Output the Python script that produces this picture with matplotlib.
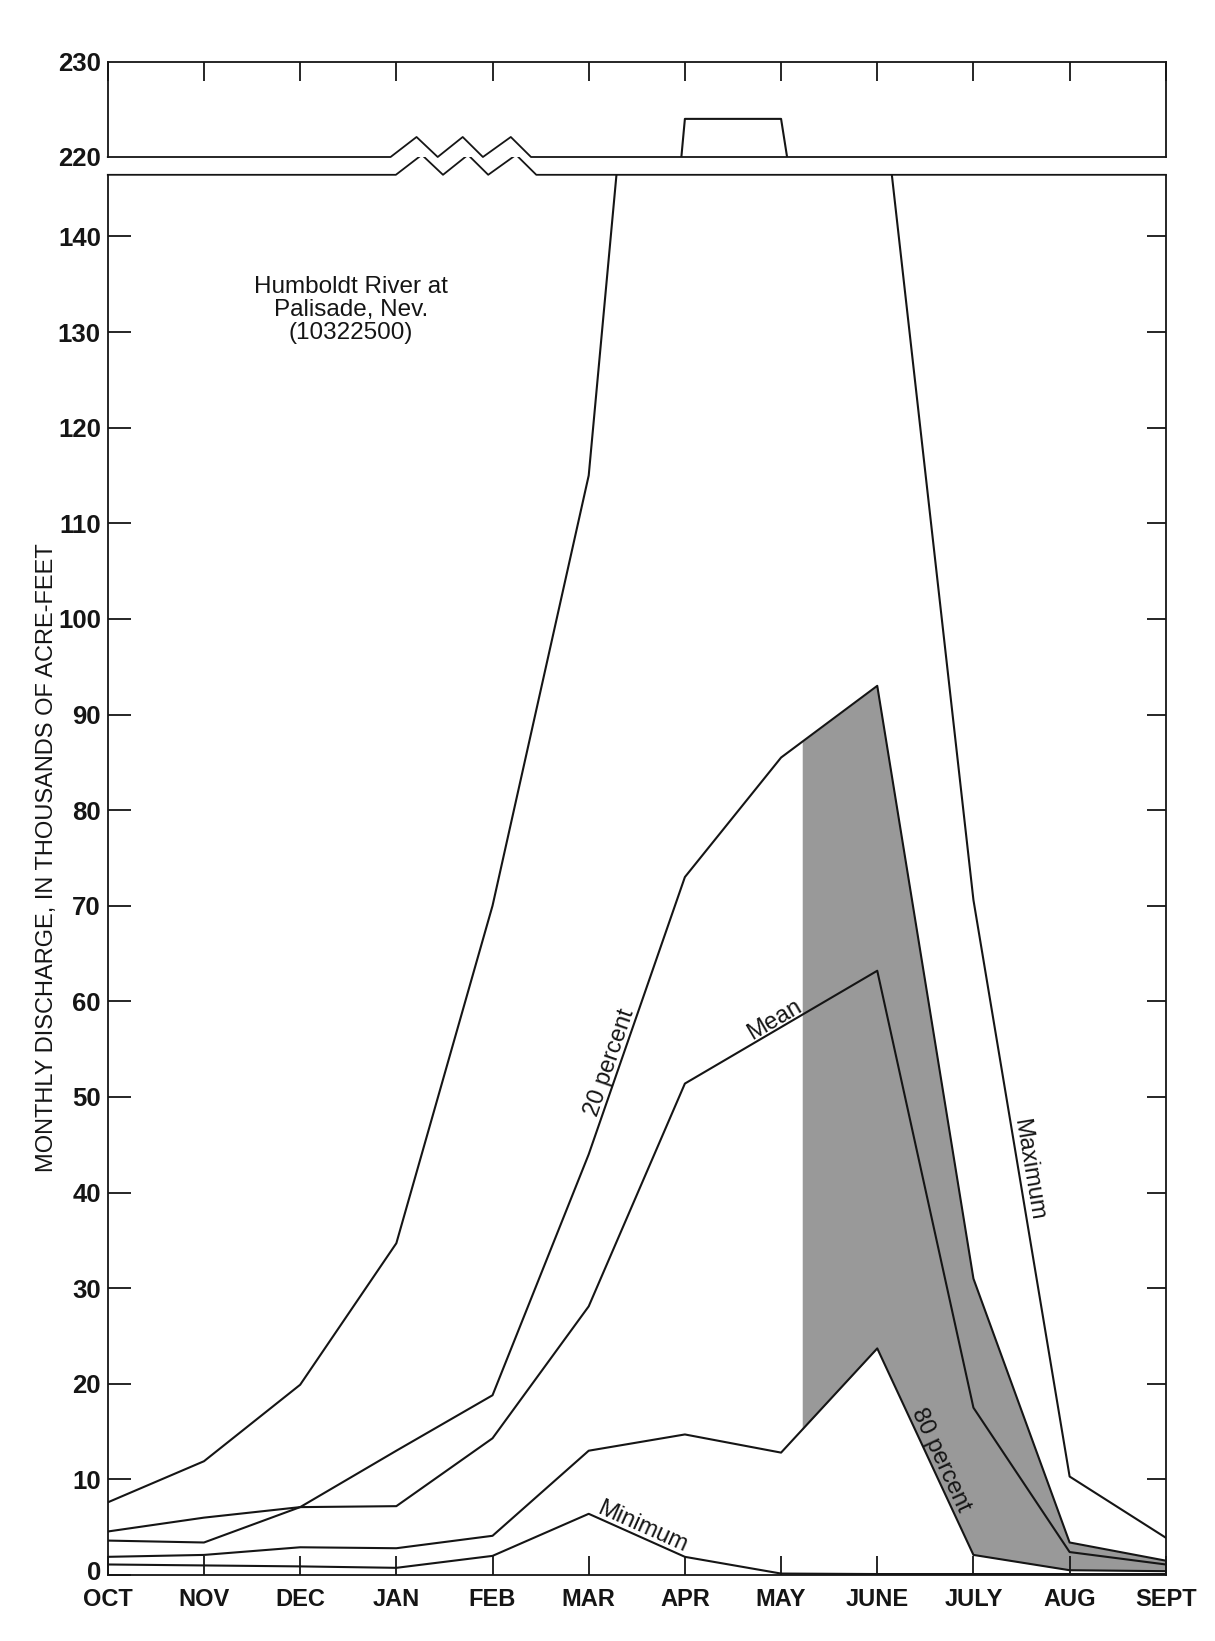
import numpy as np
import matplotlib
matplotlib.use("Agg")
import matplotlib.pyplot as plt
import matplotlib.transforms as mtransforms

plt.rcParams["font.family"] = ["Liberation Sans", "DejaVu Sans"]

# --- data: monthly discharge, thousands of acre-feet ------------------------
months = ["OCT", "NOV", "DEC", "JAN", "FEB", "MAR",
          "APR", "MAY", "JUNE", "JULY", "AUG", "SEPT"]
maximum = [7.6, 11.9, 19.9, 34.7, 70.0, 115.0, 224.0, 224.0, 160.0, 70.6, 10.3, 3.9]
pct20 = [3.6, 3.4, 7.1, 13.0, 18.8, 44.0, 73.0, 85.5, 93.0, 31.0, 3.4, 1.5]
mean = [4.55, 6.0, 7.1, 7.2, 14.3, 28.1, 51.4, 57.3, 63.2, 17.5, 2.4, 1.1]
pct80 = [1.9, 2.1, 2.9, 2.8, 4.1, 13.0, 14.7, 12.8, 23.7, 2.1, 0.5, 0.4]
minimum = [1.1, 1.0, 0.9, 0.75, 2.0, 6.4, 1.9, 0.15, 0.1, 0.1, 0.1, 0.1]
shade_from = 7.22          # shading between 20- and 80-percent curves, from mid-May

lower_ticks = list(range(0, 141, 10))
upper_ticks = [220, 230]
station = "Humboldt River at\nPalisade, Nev.\n(10322500)"
ylabel = "MONTHLY DISCHARGE, IN THOUSANDS OF ACRE-FEET"

# --- layout (pixels of the 1215 x 1641 page) --------------------------------
W, H, DPI = 1215, 1641, 100
L, R = 107.8, 1165.8
fig = plt.figure(figsize=(W / DPI, H / DPI), dpi=DPI)
ax = fig.add_axes([L / W, 1 - 1575 / H, (R - L) / W, (1575 - 174.8) / H])
axu = fig.add_axes([L / W, 1 - 157 / H, (R - L) / W, (157 - 61.7) / H])

x = np.arange(len(months))
INK = "#151515"
LW = 1.5

for a in (ax, axu):
    a.set_xlim(0, 11)
    for s in a.spines.values():
        s.set_linewidth(1.3)
        s.set_color(INK)
ax.set_ylim(0, 146.45)
axu.set_ylim(220, 230)
ax.spines["top"].set_visible(False)
axu.spines["bottom"].set_visible(False)

# shaded band
xs = np.concatenate([[shade_from], x[x > shade_from]])
ax.fill_between(xs, np.interp(xs, x, pct80), np.interp(xs, x, pct20),
                color="#999999", lw=0, zorder=1)

for series in (maximum, pct20, mean, pct80, minimum):
    ax.plot(x, series, color=INK, lw=LW, zorder=3)
axu.plot(x, maximum, color=INK, lw=LW, zorder=3)

# scale-break zigzags
zig_x = np.array([2.94, 3.21, 3.43, 3.69, 3.90, 4.19, 4.40])
zig_up = np.array([0, 1, 0, 1, 0, 1, 0])
bx = np.concatenate([[0], zig_x, [11]])
bu = np.concatenate([[0], zig_up, [0]])
axu.plot(bx, 220 + 2.1 * bu, color=INK, lw=1.3, clip_on=False, zorder=4)
bx2 = np.concatenate([[0], zig_x + 0.055, [11]])
ax.plot(bx2, 146.45 + 2.09 * bu, color=INK, lw=1.3, clip_on=False, zorder=4)

# ticks
ax.set_yticks(lower_ticks)
ax.tick_params(axis="y", direction="in", length=16.5, width=1.3, labelsize=18.5,
               pad=5, colors=INK)
ax.set_xticks(x, months)
ax.tick_params(axis="x", direction="in", length=13.7, width=1.3, labelsize=17,
               pad=9, colors=INK)
for t in ax.get_xticklabels() + ax.get_yticklabels():
    t.set_fontweight("bold")
# nudge the "0" up a little so it clears "OCT", as on the original
zero = ax.get_yticklabels()[0]
zero.set_transform(zero.get_transform() +
                   mtransforms.ScaledTranslation(0, 4 / DPI, fig.dpi_scale_trans))

sec = ax.secondary_yaxis("right")
sec.set_yticks(lower_ticks[1:])
sec.tick_params(direction="in", length=13.7, width=1.3, labelright=False, colors=INK)
sec.spines["right"].set_visible(False)

axu.set_xticks(x)
axu.tick_params(axis="x", top=True, bottom=False, labeltop=False, labelbottom=False,
                direction="in", length=13.7, width=1.3, colors=INK)
axu.set_yticks(upper_ticks)
axu.tick_params(axis="y", length=0, labelsize=18.5, pad=5, colors=INK)
for t in axu.get_yticklabels():
    t.set_fontweight("bold")

# texts
fig.text(47 / W, 1 - 858 / H, ylabel, rotation=90, ha="center", va="center",
         fontsize=17, color=INK)
ax.text(2.53, 132.3, station, ha="center", va="center", fontsize=17.5,
        linespacing=1.08, color=INK)


def line_label(text, series, i, t, off=4):
    p0 = ax.transData.transform((x[i], series[i]))
    p1 = ax.transData.transform((x[i + 1], series[i + 1]))
    ang = np.arctan2(p1[1] - p0[1], p1[0] - p0[0])
    nx, ny = -np.sin(ang), np.cos(ang)
    xa = x[i] + t * (x[i + 1] - x[i])
    ya = series[i] + t * (series[i + 1] - series[i])
    ax.annotate(text, xy=(xa, ya), xytext=(off * nx, off * ny),
                textcoords="offset pixels", rotation=np.degrees(ang),
                rotation_mode="anchor", ha="center", va="baseline",
                fontsize=17, color=INK, zorder=5)


line_label("20 percent", pct20, 5, 0.32)
line_label("Mean", mean, 6, 0.98)
line_label("Maximum", maximum, 9, 0.47)
line_label("80 percent", pct80, 8, 0.56)
line_label("Minimum", minimum, 5, 0.52)

fig.savefig("out.png", dpi=DPI, facecolor="white")
